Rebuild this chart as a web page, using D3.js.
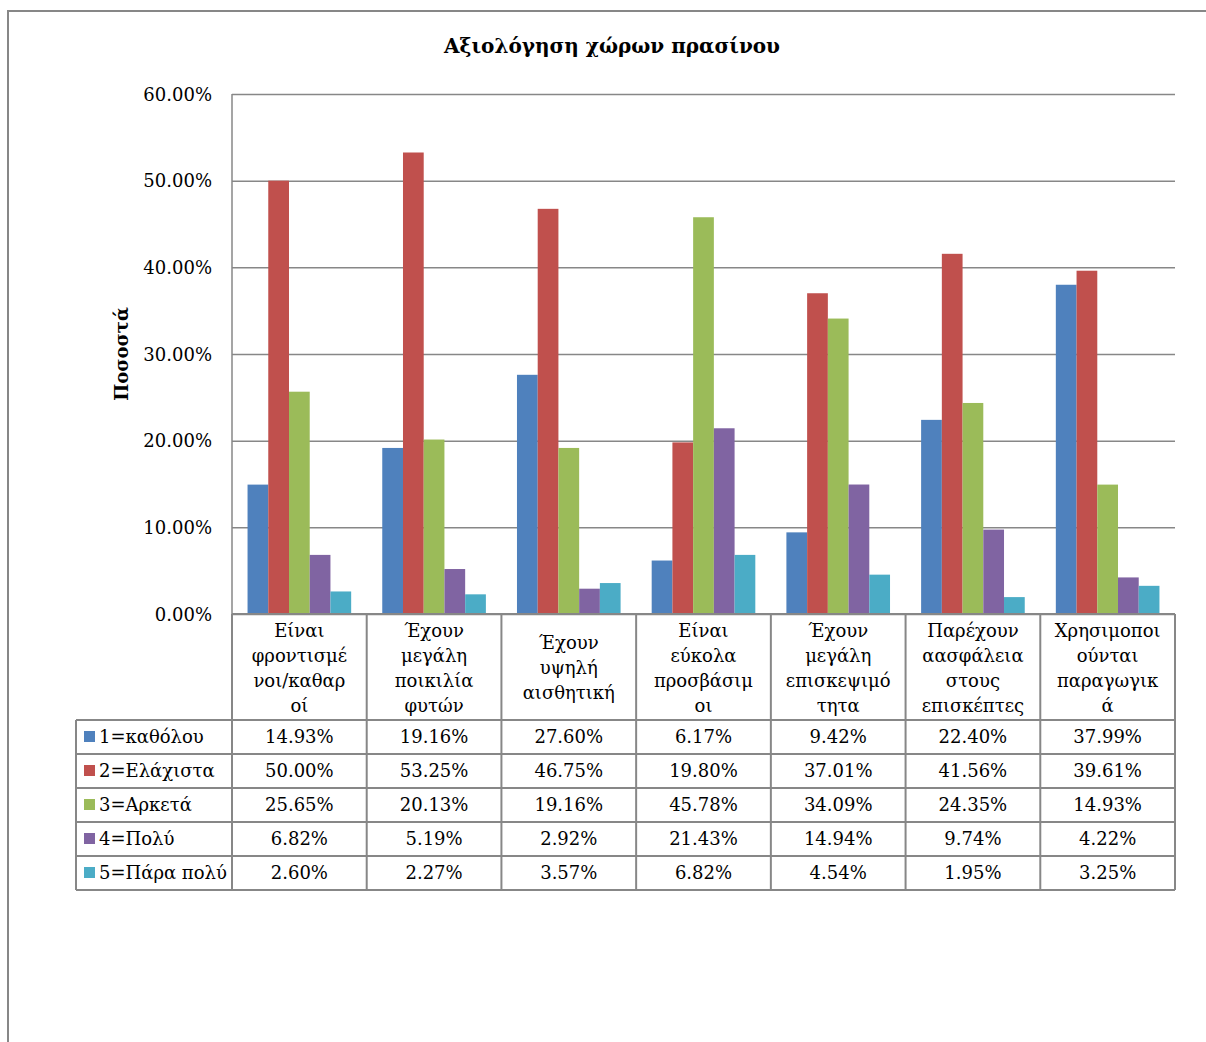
<!DOCTYPE html>
<html>
<head>
<meta charset="utf-8">
<script src="https://cdn.jsdelivr.net/npm/d3@7"></script>
<style>
  body { margin: 0; background: #fff; }
  svg { display: block; }
  text { font-family: "DejaVu Serif", "Liberation Serif", serif; fill: #000; }
</style>
</head>
<body>
<div id="chart"></div>
<script>

var width = 1206;
var height = 1042;

// categories (wrapped as in the original table header)
var categories = [
  ["Είναι", "φροντισμέ", "νοι/καθαρ", "οί"],
  ["Έχουν", "μεγάλη", "ποικιλία", "φυτών"],
  ["Έχουν", "υψηλή", "αισθητική"],
  ["Είναι", "εύκολα", "προσβάσιμ", "οι"],
  ["Έχουν", "μεγάλη", "επισκεψιμό", "τητα"],
  ["Παρέχουν", "αασφάλεια", "στους", "επισκέπτες"],
  ["Χρησιμοποι", "ούνται", "παραγωγικ", "ά"]
];
var seriesNames = ["1=καθόλου", "2=Ελάχιστα", "3=Αρκετά", "4=Πολύ", "5=Πάρα πολύ"];
var seriesColors = ["#4F81BD", "#C0504D", "#9BBB59", "#8064A2", "#4BACC6"];

var s1 = [14.93, 19.16, 27.60, 6.17, 9.42, 22.40, 37.99];
var s2 = [50.00, 53.25, 46.75, 19.80, 37.01, 41.56, 39.61];
var s3 = [25.65, 20.13, 19.16, 45.78, 34.09, 24.35, 14.93];
var s4 = [6.82, 5.19, 2.92, 21.43, 14.94, 9.74, 4.22];
var s5 = [2.60, 2.27, 3.57, 6.82, 4.54, 1.95, 3.25];
var seriesValues = [s1, s2, s3, s4, s5];

var yTicks = [0, 10, 20, 30, 40, 50, 60];

var plotLeft = 232, plotRight = 1175, plotTop = 94, plotBottom = 614;
var headerBottom = 720;
var rowH = 34;
var legendLeft = 76;
var gridColor = "#878787";

var svg = d3.select("#chart")
  .append("svg")
    .attr("width", width)
    .attr("height", height);

// outer frame (only top and left edges are visible)
svg.append("path")
  .attr("d", "M8,1042 L8,11 L1206,11")
  .attr("fill", "none")
  .attr("stroke", gridColor)
  .attr("stroke-width", 2);

// title
svg.append("text")
  .attr("x", 612)
  .attr("y", 53)
  .attr("text-anchor", "middle")
  .attr("font-size", "20px")
  .attr("font-weight", "bold")
  .text("Αξιολόγηση χώρων πρασίνου");

// y axis title
svg.append("text")
  .attr("transform", "translate(128," + ((plotTop + plotBottom) / 2) + ") rotate(-90)")
  .attr("text-anchor", "middle")
  .attr("font-size", "18px")
  .attr("font-weight", "bold")
  .text("Ποσοστά");

var idx = d3.range(categories.length);

var x0 = d3.scaleBand()
  .domain(idx)
  .range([plotLeft, plotRight])
  .padding(0);

var bw = x0.bandwidth();
var barW = bw / (5 + 1.5);

var x1 = d3.scaleBand()
  .domain(d3.range(seriesNames.length))
  .range([barW * 0.75, bw - barW * 0.75])
  .padding(0);

var y = d3.scaleLinear()
  .domain([0, 60])
  .range([plotBottom, plotTop]);

// gridlines + tick labels
var yAxis = d3.axisLeft(y)
  .tickValues(yTicks)
  .tickSize(-(plotRight - plotLeft))
  .tickPadding(20)
  .tickFormat(function(d) { return d.toFixed(2) + "%"; });

var gAxis = svg.append("g")
  .attr("transform", "translate(" + plotLeft + ",0)")
  .call(yAxis);

gAxis.select(".domain").remove();
gAxis.selectAll(".tick line")
  .attr("stroke", gridColor)
  .attr("stroke-width", 1.5);
gAxis.selectAll(".tick text")
  .attr("font-size", "18px")
  .attr("font-family", "DejaVu Serif")
  .attr("fill", "#000")
  .attr("dy", "0.35em");

// bars
var groups = svg.selectAll("g.cat")
  .data(idx)
  .enter().append("g")
    .attr("class", "cat")
    .attr("transform", function(i) { return "translate(" + x0(i) + ",0)"; });

groups.selectAll("rect")
  .data(function(i) {
    return seriesValues.map(function(vals, s) { return { s: s, v: vals[i] }; });
  })
  .enter().append("rect")
    .attr("x", function(d) { return x1(d.s); })
    .attr("width", x1.bandwidth())
    .attr("y", function(d) { return y(d.v); })
    .attr("height", function(d) { return y(0) - y(d.v); })
    .attr("fill", function(d) { return seriesColors[d.s]; });

// left axis line
svg.append("line")
  .attr("x1", plotLeft).attr("x2", plotLeft)
  .attr("y1", plotTop).attr("y2", plotBottom)
  .attr("stroke", gridColor)
  .attr("stroke-width", 1.5);

// ---- data table ----
var tableBottom = headerBottom + rowH * seriesNames.length;
var tbl = svg.append("g").attr("class", "table");

// horizontal lines
tbl.append("line")
  .attr("x1", plotLeft).attr("x2", plotRight)
  .attr("y1", plotBottom).attr("y2", plotBottom)
  .attr("stroke", gridColor).attr("stroke-width", 2);

d3.range(seriesNames.length + 1).forEach(function(r) {
  var yy = headerBottom + r * rowH;
  tbl.append("line")
    .attr("x1", legendLeft).attr("x2", plotRight)
    .attr("y1", yy).attr("y2", yy)
    .attr("stroke", gridColor).attr("stroke-width", 2);
});

// vertical lines
idx.concat([categories.length]).forEach(function(i) {
  var xx = i < categories.length ? x0(i) : plotRight;
  tbl.append("line")
    .attr("x1", xx).attr("x2", xx)
    .attr("y1", plotBottom).attr("y2", tableBottom)
    .attr("stroke", gridColor).attr("stroke-width", 2);
});
tbl.append("line")
  .attr("x1", legendLeft).attr("x2", legendLeft)
  .attr("y1", headerBottom).attr("y2", tableBottom)
  .attr("stroke", gridColor).attr("stroke-width", 2);

// category header text
var lineH = 25;
idx.forEach(function(i) {
  var lines = categories[i];
  var cy = (plotBottom + headerBottom) / 2 + 1;
  var y0 = cy - (lines.length - 1) * lineH / 2;
  var t = tbl.append("text")
    .attr("text-anchor", "middle")
    .attr("font-size", "18px");
  lines.forEach(function(l, k) {
    t.append("tspan")
      .attr("x", x0(i) + bw / 2)
      .attr("y", y0 + k * lineH)
      .attr("dy", "0.35em")
      .text(l);
  });
});

// legend rows + values
seriesNames.forEach(function(name, s) {
  var cy = headerBottom + s * rowH + rowH / 2;
  tbl.append("rect")
    .attr("x", 84).attr("y", cy - 6)
    .attr("width", 11).attr("height", 11)
    .attr("fill", seriesColors[s]);
  tbl.append("text")
    .attr("x", 99).attr("y", cy)
    .attr("dy", "0.35em")
    .attr("font-size", "18px")
    .text(name);
  idx.forEach(function(i) {
    tbl.append("text")
      .attr("x", x0(i) + bw / 2)
      .attr("y", cy)
      .attr("dy", "0.35em")
      .attr("text-anchor", "middle")
      .attr("font-size", "18px")
      .text(seriesValues[s][i].toFixed(2) + "%");
  });
});

</script>
</body>
</html>
